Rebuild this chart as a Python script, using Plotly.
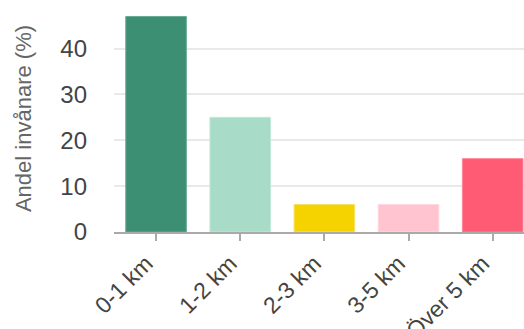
import plotly.graph_objects as go

# Share of residents by distance band
categories = ["0-1 km", "1-2 km", "2-3 km", "3-5 km", "Över 5 km"]
shares = [47, 25, 6, 6, 16]
bar_colors = ["#3d8f73", "#a8dcc9", "#f5d300", "#ffc4cf", "#ff5b74"]
line_colors = ["#6aab94", "#c2e8da", "#f8e066", "#ffd8df", "#ff8798"]
y_ticks = [0, 10, 20, 30, 40]

font_family = "Liberation Sans, Arial, sans-serif"

fig = go.Figure(
    go.Bar(
        x=list(range(len(categories))),
        y=shares,
        marker=dict(color=bar_colors, line=dict(color=line_colors, width=1)),
        hoverinfo="skip",
    )
)

fig.update_layout(
    width=524,
    height=329,
    margin=dict(l=113.5, r=0, t=4.5, b=97.4),
    paper_bgcolor="white",
    plot_bgcolor="white",
    bargap=0.28,
    showlegend=False,
    font=dict(family=font_family, size=24, color="#444444"),
)

fig.update_xaxes(
    range=[-0.5, 4.372],
    tickmode="array",
    tickvals=list(range(len(categories))),
    ticktext=categories,
    tickangle=-45,
    ticks="outside",
    ticklen=7,
    tickcolor="#aaaaaa",
    tickwidth=2,
    ticklabelshift=-10,
    showline=True,
    linecolor="#aaaaaa",
    linewidth=2,
    showgrid=False,
    tickfont=dict(size=23, color="#444444"),
    automargin=False,
)

fig.update_yaxes(
    range=[0, 49.5],
    tickmode="array",
    tickvals=y_ticks,
    ticks="",
    ticklabelstandoff=26,
    showgrid=True,
    gridcolor="#e9e9e9",
    gridwidth=2,
    zeroline=False,
    showline=False,
    tickfont=dict(size=24, color="#444444"),
    title=dict(text="Andel invånare (%)", font=dict(size=22, color="#666666"), standoff=22),
    automargin=False,
)

fig.write_html("out.html")
